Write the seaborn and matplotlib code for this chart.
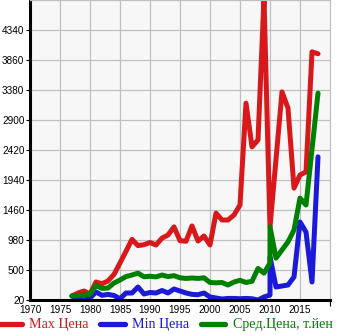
import matplotlib
matplotlib.use("Agg")
import matplotlib.pyplot as plt
from matplotlib import font_manager
import numpy as np
import pandas as pd
import seaborn as sns

# Yearly price data (thousand yen); 2010 appears twice (two listings that year)
years = [1977, 1978, 1979, 1980, 1981, 1982, 1983, 1984, 1985, 1986,
         1987, 1988, 1989, 1990, 1991, 1992, 1993, 1994, 1995, 1996,
         1997, 1998, 1999, 2000, 2001, 2002, 2003, 2004, 2005, 2006,
         2007, 2008, 2009, 2010, 2010, 2011, 2012, 2013, 2014, 2015,
         2016, 2017, 2018]

max_price = [84, 132, 164, 116, 308, 280, 325, 430, 612, 800,
             990, 890, 905, 940, 900, 1010, 1060, 1190, 970, 960,
             1205, 964, 1044, 900, 1410, 1300, 1300, 1380, 1540, 3170,
             2470, 2580, 4850, 1190, 1190, np.nan, 3350, 3090, 1810, 2020,
             2070, 3990, 3960]

min_price = [84, 40, 20, 52, 148, 95, 110, 92, 40, 132,
             132, 228, 116, 140, 132, 172, 132, 196, 164, 132,
             110, 105, 132, 68, 52, 36, 45, 45, 40, 45,
             40, 20, 68, 100, 710, 228, 244, 260, 388, 1268,
             1108, 308, 2310]

avg_price = [84, 90, 100, 112, 250, 205, 212, 292, 340, 395,
             420, 450, 392, 400, 390, 420, 395, 410, 375, 365,
             372, 365, 375, 300, 295, 300, 260, 308, 335, 300,
             320, 525, 450, 610, 1190, 690, 820, 950, 1140, 1650,
             1540, np.nan, 3330]

series_names = ["Max Цена", "Min Цена", "Сред.Цена, т.йен"]
series_colors = ["#d7191c", "#1a1ad8", "#008000"]

y_ticks = [20, 500, 980, 1460, 1940, 2420, 2900, 3380, 3860, 4340]
x_ticks = [1970, 1975, 1980, 1985, 1990, 1995, 2000, 2005, 2010, 2015]

frames = []
for name, vals in zip(series_names, [max_price, min_price, avg_price]):
    frames.append(pd.DataFrame({"year": years, "price": vals, "series": name}))
df = pd.concat(frames, ignore_index=True).dropna()

sns.set_theme(style="whitegrid")

available = {f.name for f in font_manager.fontManager.ttflist}
if "Liberation Sans Narrow" in available:
    tick_family, tick_size = "Liberation Sans Narrow", 8.7
else:
    tick_family, tick_size = "Liberation Sans", 7.2

fig = plt.figure(figsize=(3.45, 3.35), dpi=100)
fig.patch.set_facecolor("white")
ax = fig.add_axes([30 / 345, 35 / 335, 300 / 345, 300 / 335])
ax.set_facecolor("#f7f7f7")

sns.lineplot(data=df, x="year", y="price", hue="series",
             hue_order=series_names, palette=series_colors,
             sort=False, estimator=None, linewidth=3.6, ax=ax)

for line in ax.lines:
    line.set_solid_joinstyle("round")
    line.set_solid_capstyle("round")

ax.set_xlim(1970, 2020)
ax.set_ylim(20, 4820)
ax.set_xticks(x_ticks)
ax.set_xticklabels([str(v) for v in x_ticks])
ax.set_yticks(y_ticks)
ax.set_yticklabels([str(v) for v in y_ticks])
ax.set_xticks([2020], minor=True)
ax.set_xlabel("")
ax.set_ylabel("")

ax.grid(True, which="major", color="#c0c0c0", linewidth=0.9)
ax.grid(False, which="minor")
ax.set_axisbelow(True)

for side in ["left", "bottom"]:
    ax.spines[side].set_color("black")
    ax.spines[side].set_linewidth(2.2)
for side in ["top", "right"]:
    ax.spines[side].set_color("#c0c0c0")
    ax.spines[side].set_linewidth(0.9)

ax.tick_params(axis="y", which="major", length=3, width=0.8, color="black",
               pad=1, left=True)
ax.tick_params(axis="x", which="major", length=0, pad=3.5)
ax.tick_params(axis="x", which="minor", length=4, width=0.8, color="black",
               bottom=True)
for lab in ax.get_xticklabels() + ax.get_yticklabels():
    lab.set_fontfamily(tick_family)
    lab.set_fontsize(tick_size)
    lab.set_color("black")

handles, labels = ax.get_legend_handles_labels()
if ax.get_legend() is not None:
    ax.get_legend().remove()
leg = fig.legend(handles, labels, loc="center", bbox_to_anchor=(0.478, 0.03),
                 bbox_transform=fig.transFigure, ncol=3, frameon=False,
                 prop={"family": "Liberation Serif", "size": 10.1},
                 handlelength=1.75, handletextpad=0.55, columnspacing=0.8,
                 borderaxespad=0, borderpad=0)
for txt, col in zip(leg.get_texts(), series_colors):
    txt.set_color(col)
for h in leg.get_lines():
    h.set_linewidth(3.8)
    h.set_solid_capstyle("round")

fig.savefig("out.png", dpi=100)
